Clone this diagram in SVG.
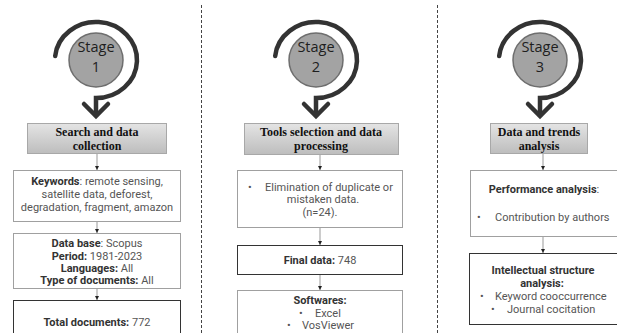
<svg xmlns="http://www.w3.org/2000/svg" xmlns:xlink="http://www.w3.org/1999/xlink" width="617" height="333" viewBox="0 0 617 333">
  <style>
    .divider { stroke: #444; stroke-width: 1; stroke-dasharray: 3 2; fill: none; }
    .spiral { fill: none; stroke: #333; stroke-width: 4.5; stroke-linecap: round; stroke-linejoin: miter; }
    .stage-disc { fill: #a3a3a3; stroke: #6e6e6e; stroke-width: 1.5; }
    .stage-txt { font-family: "Open Sans", "Noto Sans", sans-serif; font-size: 14.5px; fill: #1e1e1e; text-anchor: middle; }
    .head { fill: url(#headFill); stroke: #a8a8a8; stroke-width: 1; }
    .head-txt { font-family: "Liberation Serif", serif; font-weight: bold; font-size: 12px; fill: #111; text-anchor: middle; }
    .box { fill: #fff; stroke: #a0a0a0; stroke-width: 1; }
    .box-dark { fill: #fff; stroke: #333; stroke-width: 1; }
    .txt { font-family: Roboto, "Noto Sans", sans-serif; font-size: 11px; fill: #555; }
    .mid { text-anchor: middle; }
    .b { font-weight: bold; fill: #333; }
    .link { stroke: #999; stroke-width: 1; fill: none; marker-end: url(#tip); }
  </style>
  <defs>
    <linearGradient id="headFill" x1="0" y1="0" x2="0" y2="1">
      <stop offset="0" stop-color="#e4e4e4"/>
      <stop offset="1" stop-color="#bdbdbd"/>
    </linearGradient>
    <marker id="tip" markerUnits="userSpaceOnUse" markerWidth="5" markerHeight="5" refX="4" refY="2.5" orient="auto">
      <path d="M0,0.5 L4,2.5 L0,4.5 Z" fill="#222"/>
    </marker>
    <!-- circular "stage" arrow, centred on the disc -->
    <g id="spiral">
      <path class="spiral" d="M -40.8 -4 A 41 38 0 1 1 0 38 L 0 55"/>
      <path class="spiral" d="M -12 44 L 0 56 L 12 44" stroke-linecap="butt"/>
      <circle class="stage-disc" cx="0" cy="0" r="27"/>
    </g>
  </defs>

  <!-- column separators -->
  <line class="divider" x1="201.5" y1="5" x2="201.5" y2="333"/>
  <line class="divider" x1="437.5" y1="5" x2="437.5" y2="333"/>

  <!-- connectors -->
  <g id="connectors">
    <line class="link" x1="97" y1="153" x2="97" y2="170"/>
    <line class="link" x1="97" y1="222" x2="97" y2="233"/>
    <line class="link" x1="97" y1="289" x2="97" y2="300"/>
    <line class="link" x1="320" y1="154" x2="320" y2="170"/>
    <line class="link" x1="320" y1="228" x2="320" y2="245"/>
    <line class="link" x1="320" y1="275" x2="320" y2="290"/>
    <line class="link" x1="543" y1="153" x2="543" y2="170"/>
    <line class="link" x1="543" y1="237" x2="543" y2="253"/>
  </g>

  <!-- stage 1 -->
  <g id="stage1">
    <use xlink:href="#spiral" x="96" y="60"/>
    <text class="stage-txt" x="96" y="52">Stage</text>
    <text class="stage-txt" x="96" y="72">1</text>
  </g>
  <g id="search-header">
    <rect class="head" x="27.5" y="123.5" width="139" height="30"/>
    <text class="head-txt" x="97" y="136">Search and data</text>
    <text class="head-txt" x="97" y="149.5">collection</text>
  </g>
  <g id="keywords">
    <rect class="box" x="13.5" y="170.5" width="167" height="51"/>
    <text class="txt mid" x="97" y="185"><tspan class="b">Keywords</tspan>: remote sensing,</text>
    <text class="txt mid" x="97" y="198">satellite data, deforest,</text>
    <text class="txt mid" x="97" y="211">degradation, fragment, amazon</text>
  </g>
  <g id="database">
    <rect class="box" x="13.5" y="233.5" width="167" height="55"/>
    <text class="txt mid" x="97" y="247"><tspan class="b">Data base</tspan>: Scopus</text>
    <text class="txt mid" x="97" y="259.5"><tspan class="b">Period:</tspan> 1981-2023</text>
    <text class="txt mid" x="97" y="272"><tspan class="b">Languages:</tspan> All</text>
    <text class="txt mid" x="97" y="284"><tspan class="b">Type of documents:</tspan> All</text>
  </g>
  <g id="total">
    <rect class="box-dark" x="13.5" y="300.5" width="167" height="45"/>
    <text class="txt mid" x="97" y="326"><tspan class="b">Total documents:</tspan> 772</text>
  </g>

  <!-- stage 2 -->
  <g id="stage2">
    <use xlink:href="#spiral" x="316" y="60"/>
    <text class="stage-txt" x="316" y="52">Stage</text>
    <text class="stage-txt" x="316" y="72">2</text>
  </g>
  <g id="tools-header">
    <rect class="head" x="244.5" y="123.5" width="154" height="31"/>
    <text class="head-txt" x="321" y="136">Tools selection and data</text>
    <text class="head-txt" x="321" y="150">processing</text>
  </g>
  <g id="elimination">
    <rect class="box" x="237.5" y="170.5" width="165" height="57" stroke="#777"/>
    <text class="txt" x="248" y="191">•</text>
    <text class="txt" x="265" y="191">Elimination of duplicate or</text>
    <text class="txt mid" x="323" y="203">mistaken data.</text>
    <text class="txt mid" x="320" y="216">(n=24).</text>
  </g>
  <g id="final-data">
    <rect class="box-dark" x="237.5" y="245.5" width="165" height="29"/>
    <text class="txt mid" x="320" y="264"><tspan class="b">Final data:</tspan> 748</text>
  </g>
  <g id="softwares">
    <rect class="box" x="237.5" y="290.5" width="165" height="55"/>
    <text class="txt mid b" x="320" y="304">Softwares:</text>
    <text class="txt" x="299" y="316.5">•</text>
    <text class="txt" x="315" y="316.5">Excel</text>
    <text class="txt" x="287" y="329">•</text>
    <text class="txt" x="302" y="329">VosViewer</text>
  </g>

  <!-- stage 3 -->
  <g id="stage3">
    <use xlink:href="#spiral" x="540" y="60"/>
    <text class="stage-txt" x="540" y="52">Stage</text>
    <text class="stage-txt" x="540" y="72">3</text>
  </g>
  <g id="trends-header">
    <rect class="head" x="490.5" y="123.5" width="97" height="30"/>
    <text class="head-txt" x="539" y="136">Data and trends</text>
    <text class="head-txt" x="539" y="150">analysis</text>
  </g>
  <g id="performance">
    <rect class="box" x="470.5" y="170.5" width="150" height="66"/>
    <text class="txt mid" x="544" y="193"><tspan class="b">Performance analysis</tspan>:</text>
    <text class="txt" x="477" y="221">•</text>
    <text class="txt" x="495" y="221">Contribution by authors</text>
  </g>
  <g id="intellectual">
    <rect class="box-dark" x="469.5" y="253.5" width="152" height="71"/>
    <text class="txt mid b" x="543" y="274">Intellectual structure</text>
    <text class="txt mid b" x="542" y="287">analysis:</text>
    <text class="txt" x="480" y="300">•</text>
    <text class="txt" x="495" y="300">Keyword cooccurrence</text>
    <text class="txt" x="491" y="312.5">•</text>
    <text class="txt" x="507" y="312.5">Journal cocitation</text>
  </g>
</svg>
